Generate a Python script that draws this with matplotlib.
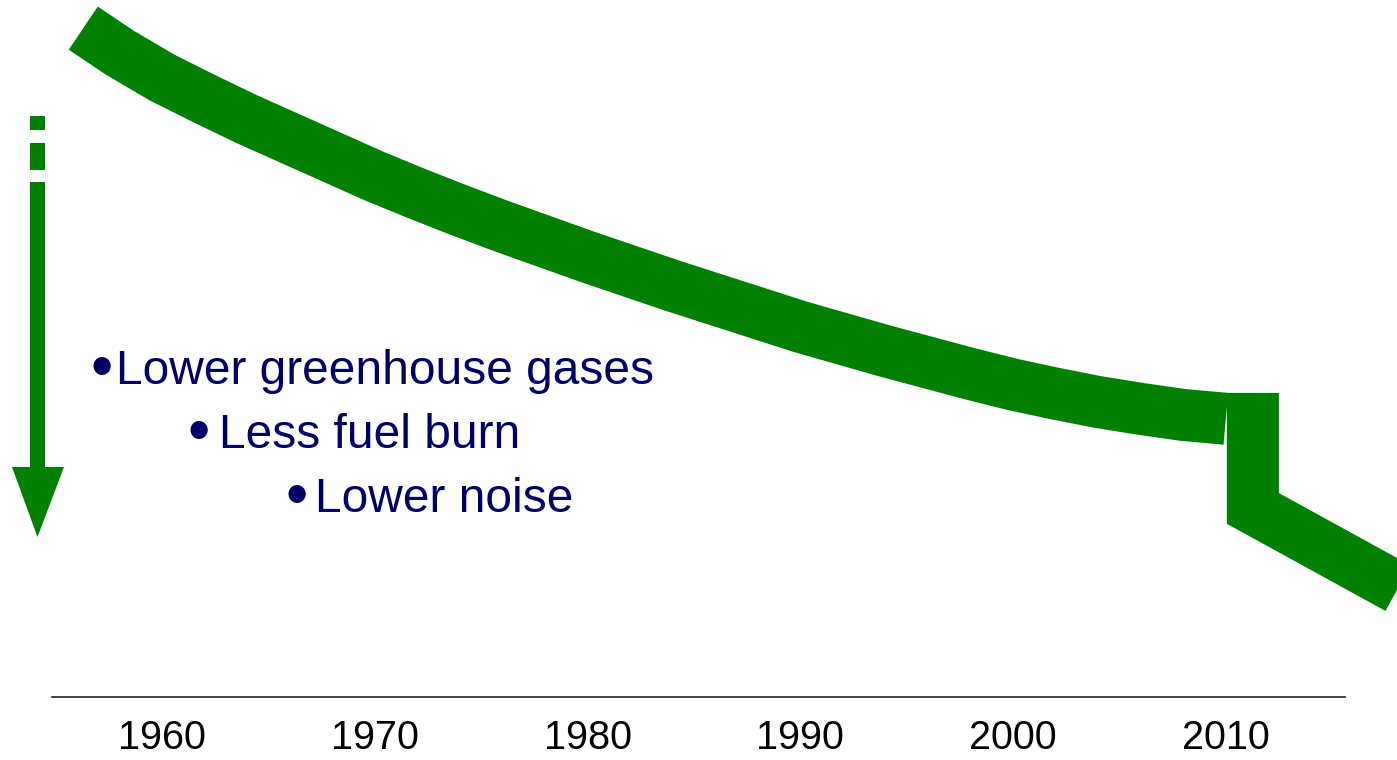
import numpy as np
import matplotlib
matplotlib.use("Agg")
import matplotlib.pyplot as plt
from matplotlib.patches import Rectangle, Polygon

W, H = 1397, 760
green = "#008000"
navy = "#000066"

# trend curve (year, relative level)
years = [1956.3, 1958, 1960, 1962, 1964, 1966, 1968, 1970, 1972, 1974, 1976, 1978,
         1980, 1982, 1984, 1986, 1988, 1990, 1992, 1994, 1996, 1998, 2000, 2002,
         2004, 2006, 2008, 2010]
level = [96.3, 93.1, 89.8, 87.0, 84.3, 81.8, 79.3, 76.8, 74.5, 72.3, 70.2, 68.2,
         66.2, 64.3, 62.4, 60.6, 58.8, 57.0, 55.4, 53.8, 52.3, 50.8, 49.4, 48.2,
         47.1, 46.2, 45.4, 44.9]

# step change after 2010
step_years = [2011.27, 2011.27, 2018.1]
step_level = [48.3, 33.1, 22.6]

tick_years = [1960, 1970, 1980, 1990, 2000, 2010]
bullets = ["Lower greenhouse gases", "Less fuel burn", "Lower noise"]

fig = plt.figure(figsize=(W / 100, H / 100), dpi=100)
ax = fig.add_axes([52 / W, 63 / H, 1293 / W, 697 / H])
ax.set_xlim(1954.83, 2015.60)
ax.set_ylim(8.29, 100)

lw = 52 * 72 / 100
ax.plot(years, level, color=green, lw=lw, solid_capstyle="butt",
        solid_joinstyle="round", clip_on=False)
ax.plot(step_years, step_level, color=green, lw=lw, solid_capstyle="butt",
        solid_joinstyle="miter", clip_on=False)

for s in ["top", "left", "right"]:
    ax.spines[s].set_visible(False)
ax.spines["bottom"].set_color("#222222")
ax.spines["bottom"].set_linewidth(1.2)
ax.set_yticks([])
ax.set_xticks(tick_years)
ax.set_xticklabels([str(y) for y in tick_years], fontsize=28.5, family="Liberation Sans")
ax.tick_params(axis="x", length=0, pad=16)


# arrow on the left (figure pixels, top-left origin)
def fx(px):
    return px / W


def fy(py):
    return 1 - py / H


for top, bot in [(116, 130), (143, 170), (182, 468)]:
    fig.add_artist(Rectangle((fx(30), fy(bot)), 15 / W, (bot - top) / H,
                             transform=fig.transFigure, color=green, lw=0))
fig.add_artist(Polygon([(fx(12), fy(467)), (fx(64), fy(467)), (fx(37.5), fy(537))],
                       closed=True, transform=fig.transFigure, color=green, lw=0))

bullet_x = [91, 188, 285]
text_x = [116, 219, 315]
base_y = [384, 448, 512]
for b, t, by, s in zip(bullet_x, text_x, base_y, bullets):
    fig.text(fx(b), fy(by + 4), "\u2022", fontsize=46, color=navy, va="baseline",
             family="Liberation Sans")
    fig.text(fx(t), fy(by), s, fontsize=34.5, color=navy, va="baseline",
             family="Liberation Sans")

fig.savefig("out.png", dpi=100)
